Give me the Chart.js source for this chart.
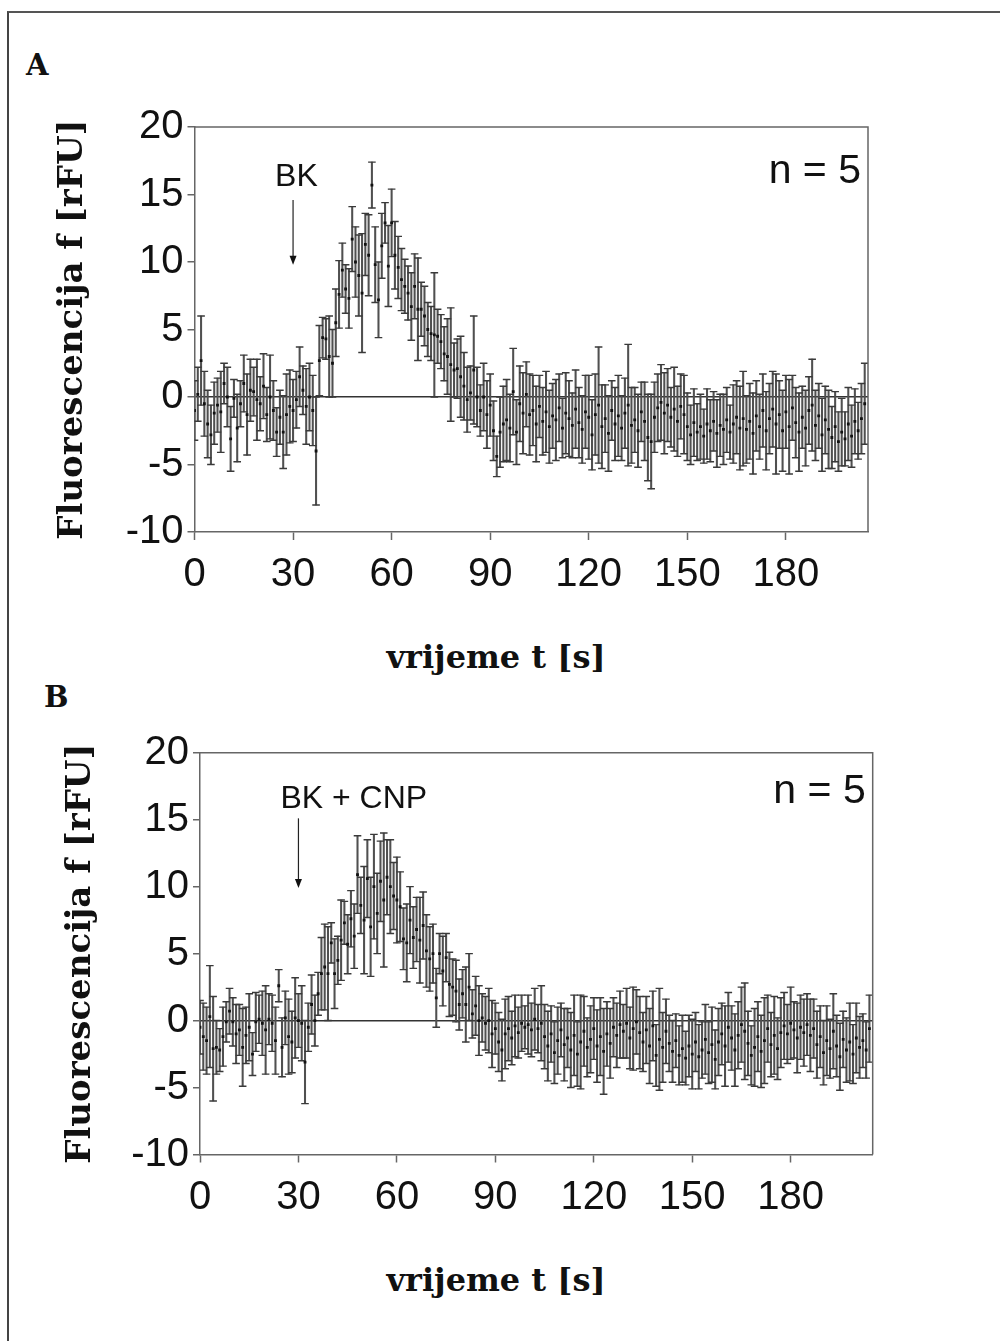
<!DOCTYPE html>
<html>
<head>
<meta charset="utf-8">
<script src="https://cdn.jsdelivr.net/npm/chart.js@4.4.1/dist/chart.umd.min.js"></script>
<style>
  html, body { margin: 0; padding: 0; background: #fff; overflow: hidden; }
  body { width: 1000px; height: 1341px; position: relative; }
  .frame { position: absolute; left: 7px; top: 11px; width: 1100px; height: 1400px;
           border-top: 2px solid #555; border-left: 2px solid #444; }
  .panel { position: absolute; font: bold 29px "DejaVu Serif", serif; line-height: 1; color: #111; }
  .xtitle { position: absolute; width: 1000px; text-align: center;
            font: bold 32px "DejaVu Serif", serif; line-height: 1; color: #111; }
  canvas { position: absolute; left: 0; }
</style>
</head>
<body>
<div class="frame"></div>
<div class="panel" style="left:26px; top:51px;">A</div>
<div class="panel" style="left:44px; top:683px;">B</div>
<canvas id="chartA" width="1000" height="600" style="top:0px"></canvas>
<div class="xtitle" style="left:-4px; top:641px;">vrijeme t [s]</div>
<canvas id="chartB" width="1000" height="560" style="top:680px"></canvas>
<div class="xtitle" style="left:-4px; top:1264px;">vrijeme t [s]</div>

<script>
// time base, seconds (one frame per second)
const timeS = [
  0, 1, 2, 3, 4, 5, 6, 7, 8, 9, 10, 11, 12, 13, 14, 15, 16, 17, 18, 19,
  20, 21, 22, 23, 24, 25, 26, 27, 28, 29, 30, 31, 32, 33, 34, 35, 36, 37, 38, 39,
  40, 41, 42, 43, 44, 45, 46, 47, 48, 49, 50, 51, 52, 53, 54, 55, 56, 57, 58, 59,
  60, 61, 62, 63, 64, 65, 66, 67, 68, 69, 70, 71, 72, 73, 74, 75, 76, 77, 78, 79,
  80, 81, 82, 83, 84, 85, 86, 87, 88, 89, 90, 91, 92, 93, 94, 95, 96, 97, 98, 99,
  100, 101, 102, 103, 104, 105, 106, 107, 108, 109, 110, 111, 112, 113, 114, 115, 116, 117, 118, 119,
  120, 121, 122, 123, 124, 125, 126, 127, 128, 129, 130, 131, 132, 133, 134, 135, 136, 137, 138, 139,
  140, 141, 142, 143, 144, 145, 146, 147, 148, 149, 150, 151, 152, 153, 154, 155, 156, 157, 158, 159,
  160, 161, 162, 163, 164, 165, 166, 167, 168, 169, 170, 171, 172, 173, 174, 175, 176, 177, 178, 179,
  180, 181, 182, 183, 184, 185, 186, 187, 188, 189, 190, 191, 192, 193, 194, 195, 196, 197, 198, 199,
  200, 201, 202, 203, 204
];

// panel A: BK, mean fluorescence and SEM
const meanA = [
  -1.0, 0.2, 2.7, -0.5, -2.0, -2.8, -1.2, -0.6, -1.1, 1.0,
  0.0, -3.1, -0.1, -2.3, -0.5, 1.0, -1.3, 0.5, 0.4, -0.2,
  -0.5, 0.8, -1.3, 0.0, -1.0, -2.6, -1.5, -2.6, -1.3, -0.7,
  -1.0, -0.2, 1.5, 0.5, -0.7, 0.0, -1.0, -4.0, 2.7, 4.4,
  4.3, 3.0, 2.5, 5.5, 7.6, 9.4, 8.0, 7.3, 11.7, 10.0,
  9.0, 7.7, 11.3, 10.5, 15.7, 9.8, 7.2, 11.2, 12.9, 9.7,
  12.9, 10.5, 9.6, 8.7, 8.2, 7.7, 6.7, 8.2, 6.5, 6.5,
  6.0, 5.0, 4.7, 4.6, 4.5, 4.1, 3.2, 3.0, 2.4, 2.0,
  2.1, 1.5, 0.8, -0.2, 0.3, 2.0, 0.0, -1.0, 0.0, -1.3,
  -0.6, -2.5, -4.4, -2.6, -2.0, -1.7, -2.3, 0.4, -2.6, -0.5,
  -1.2, 0.2, -1.3, -1.0, -2.0, -0.7, -1.8, -1.1, -2.2, -1.4,
  -1.7, -0.8, -2.3, -1.2, -1.6, -2.1, -0.9, -1.9, -2.4, -1.1,
  -1.5, -2.8, -1.3, -0.6, -2.2, -1.6, -2.7, -1.0, -2.0, -1.4,
  -2.3, -1.2, -0.6, -2.1, -1.7, -2.5, -1.1, -1.8, -3.0, -3.3,
  -1.5, -0.8, -0.4, -1.2, -0.6, -1.5, -0.9, -1.8, -0.7, -1.3,
  -2.2, -2.8, -1.9, -2.6, -2.2, -2.9, -2.0, -2.5, -1.8, -2.7,
  -2.1, -2.4, -1.7, -2.6, -2.0, -1.5, -2.3, -1.6, -2.4, -1.8,
  -2.7, -1.4, -2.2, -1.0, -2.5, -1.6, -0.9, -2.0, -1.3, -2.5,
  -1.1, -2.2, -0.8, -1.9, -2.6, -1.5, -2.3, -1.0, -0.6, -2.1,
  -1.4, -2.8, -1.7, -2.4, -3.0, -2.2, -3.3, -2.6, -3.1, -2.0,
  -2.9, -1.8, -2.5, -1.6, -0.5
];
const semA = [
  2.2, 2.0, 3.3, 2.4, 2.5, 2.2, 2.3, 2.0, 3.0, 1.5,
  2.2, 2.4, 1.4, 2.5, 1.7, 2.1, 3.0, 2.3, 1.8, 3.0,
  2.0, 2.4, 2.0, 3.1, 2.2, 1.8, 2.0, 2.7, 3.0, 2.7,
  2.3, 2.1, 2.2, 1.8, 2.8, 2.5, 2.6, 4.0, 2.6, 1.5,
  1.5, 3.0, 2.5, 2.5, 2.5, 2.0, 1.8, 2.2, 2.4, 2.6,
  3.0, 4.4, 2.3, 3.0, 1.7, 2.8, 2.8, 2.4, 1.5, 3.0,
  2.5, 2.5, 2.3, 2.3, 2.0, 2.0, 2.5, 2.4, 3.8, 2.0,
  2.2, 2.0, 2.0, 4.6, 2.0, 2.0, 2.0, 2.8, 4.2, 2.0,
  2.2, 3.0, 2.5, 2.4, 2.0, 4.0, 2.2, 1.9, 2.5, 2.5,
  2.3, 2.2, 1.5, 2.6, 2.8, 3.0, 2.5, 3.2, 2.4, 2.8,
  3.0, 2.4, 3.0, 2.6, 2.8, 2.3, 2.5, 3.0, 2.7, 2.4,
  3.0, 2.5, 2.2, 3.0, 2.8, 2.4, 2.9, 2.6, 2.5, 2.7,
  3.1, 2.6, 3.0, 4.3, 3.1, 2.5, 2.8, 2.2, 2.7, 3.0,
  2.4, 2.6, 4.5, 2.8, 2.4, 2.7, 2.2, 2.9, 3.2, 3.5,
  2.6, 2.5, 2.8, 3.0, 2.7, 2.2, 3.1, 2.6, 2.4, 2.9,
  2.5, 2.2, 2.5, 2.1, 2.4, 2.0, 2.6, 2.3, 2.2, 2.5,
  2.3, 2.6, 2.4, 2.0, 2.9, 2.7, 3.1, 3.5, 2.5, 2.8,
  3.0, 2.6, 2.4, 2.7, 2.9, 2.6, 2.8, 3.7, 2.5, 3.0,
  2.7, 3.5, 2.4, 2.6, 2.9, 2.3, 2.8, 2.5, 3.4, 2.6,
  2.4, 2.7, 2.5, 2.9, 2.3, 2.6, 2.2, 2.5, 2.0, 2.7,
  2.3, 2.4, 2.1, 2.6, 3.0
];

// panel B: BK + CNP
const meanB = [
  -0.5, -1.2, -1.5, 0.3, -2.1, -2.0, -2.2, -1.2, -0.1, 0.7,
  -0.1, -1.0, -0.7, -2.0, -1.1, -0.5, -2.5, -0.1, 0.1, -0.2,
  -0.7, 0.1, -0.2, -1.5, 2.6, -2.0, 0.2, -1.2, -1.6, 0.2,
  0.0, -0.2, -3.1, -0.5, 1.2, 0.0, 2.0, 3.5, 4.0, 3.5,
  5.8, 3.5, 4.5, 6.0, 7.3, 5.7, 7.6, 6.3, 10.9, 8.6,
  7.5, 10.6, 7.0, 10.0, 8.0, 10.4, 9.0, 10.7, 10.0, 9.3,
  9.0, 8.5, 6.1, 5.8, 7.5, 6.2, 6.8, 6.0, 7.1, 5.2,
  4.6, 5.0, 1.7, 5.0, 3.7, 4.7, 2.7, 2.5, 2.2, 1.2,
  2.0, 1.2, 2.5, 0.5, 1.1, 0.0, 0.2, -0.2, 0.0, -1.0,
  -0.6, -1.6, -2.2, -1.0, -0.6, -1.3, -0.4, -0.9, -0.2, -0.5,
  -0.3, -0.7, 0.1, -0.6, -0.2, -1.2, -1.9, -1.0, -2.4, -1.5,
  -0.7, -1.8, -1.3, -2.2, -1.1, -2.5, -1.6, -0.8, -2.0, -1.4,
  -0.6, -1.9, -1.2, -2.3, -1.0, -1.7, -0.5, -1.1, -0.3, -0.8,
  -0.2, -1.3, -0.6, -0.1, -0.9, -1.6, -0.7, -1.9, -0.4, -2.6,
  -1.4, -2.0, -0.8, -1.7, -2.3, -1.5, -2.6, -2.1, -2.8, -1.9,
  -2.5, -1.6, -2.7, -2.2, -1.4, -2.4, -1.8, -2.9, -1.6, -1.0,
  -1.9, -0.5, -1.3, -2.2, -1.1, -0.3, -0.8, -1.7, -2.6, -2.0,
  -1.2, -2.3, -1.5, -0.6, -1.8, -1.1, -2.1, -0.9, -0.4, -1.0,
  -0.2, -0.7, -1.3, -0.5, -0.9, -0.3, -1.1, -0.6, -1.8, -1.2,
  -2.4, -1.5, -2.1, -0.8, -1.9, -2.7, -1.4, -2.2, -1.6, -2.5,
  -1.3, -2.0, -1.5, -2.2, -0.6
];
const semB = [
  2.0, 2.5, 2.5, 3.8, 3.9, 2.0, 1.6, 2.2, 1.5, 1.7,
  1.8, 2.2, 1.9, 2.9, 2.1, 2.5, 1.6, 2.2, 1.8, 2.4,
  3.3, 1.9, 2.1, 2.5, 1.2, 2.2, 2.0, 2.8, 2.3, 3.0,
  2.0, 2.8, 3.1, 1.8, 2.2, 1.9, 1.6, 2.7, 3.2, 3.5,
  1.5, 2.6, 1.8, 3.0, 1.6, 2.2, 2.1, 2.4, 2.9, 2.1,
  4.0, 2.9, 3.7, 3.9, 3.0, 3.0, 5.0, 2.8, 3.5, 2.5,
  3.2, 2.6, 2.3, 2.9, 2.5, 2.3, 2.4, 3.2, 2.5, 2.7,
  2.4, 2.2, 2.2, 1.5, 2.6, 1.8, 2.4, 2.1, 2.3, 1.9,
  1.8, 2.8, 2.5, 1.8, 2.2, 2.6, 1.8, 2.0, 2.4, 2.5,
  1.9, 2.2, 2.3, 2.6, 2.4, 2.0, 2.3, 1.9, 2.1, 1.6,
  2.2, 2.0, 2.3, 1.8, 2.8, 2.4, 2.6, 2.1, 2.3, 2.5,
  2.0, 2.7, 2.2, 2.8, 3.0, 2.4, 3.5, 2.6, 2.2, 2.5,
  2.3, 2.7, 2.9, 3.2, 2.4, 2.6, 2.2, 2.4, 2.5, 2.0,
  2.6, 2.3, 3.1, 2.4, 2.7, 2.2, 2.5, 2.8, 2.6, 2.3,
  3.8, 2.6, 2.4, 2.1, 2.3, 2.0, 2.2, 2.5, 2.0, 2.3,
  2.6, 2.2, 2.4, 2.1, 2.6, 2.3, 2.8, 2.2, 2.5, 2.3,
  3.0, 2.6, 2.4, 2.7, 2.5, 2.8, 3.6, 2.4, 2.2, 2.9,
  2.6, 2.7, 3.2, 2.5, 2.4, 2.9, 2.3, 2.6, 2.5, 2.2,
  2.7, 2.1, 2.6, 2.4, 2.5, 2.3, 2.7, 2.2, 2.5, 2.3,
  2.4, 2.6, 2.2, 2.8, 2.3, 2.5, 2.1, 2.4, 2.9, 2.2,
  2.6, 2.3, 2.0, 2.1, 2.5
];

const yTicks = [-10, -5, 0, 5, 10, 15, 20];
const xTicks = [0, 30, 60, 90, 120, 150, 180];

const tickFont = { family: '"Liberation Sans", Arial, sans-serif', size: 40 };
const axisGrey = '#666';

// stimulus arrow, "n = 5" and the top/right frame of the plot box
const notes = {
  id: 'notes',
  afterDraw(chart, args, o) {
    const { ctx, chartArea: a, scales: { x, y } } = chart;
    ctx.save();
    ctx.fillStyle = '#111';
    ctx.strokeStyle = axisGrey;
    ctx.lineWidth = 1.5;
    ctx.beginPath();
    ctx.moveTo(a.left, a.top);
    ctx.lineTo(a.right, a.top);
    ctx.lineTo(a.right, a.bottom);
    ctx.stroke();

    const ax = x.getPixelForValue(o.arrowAt);
    ctx.font = '32px "Liberation Sans", Arial, sans-serif';
    ctx.textAlign = 'left';
    ctx.textBaseline = 'alphabetic';
    ctx.fillText(o.stim, ax - 18, y.getPixelForValue(o.stimY));

    const y0 = y.getPixelForValue(o.arrowFrom);
    const y1 = y.getPixelForValue(o.arrowTo);
    ctx.strokeStyle = '#222';
    ctx.lineWidth = 1.2;
    ctx.beginPath();
    ctx.moveTo(ax, y0);
    ctx.lineTo(ax, y1 - 7);
    ctx.stroke();
    ctx.beginPath();
    ctx.moveTo(ax - 3.5, y1 - 9);
    ctx.lineTo(ax + 3.5, y1 - 9);
    ctx.lineTo(ax, y1);
    ctx.closePath();
    ctx.fill();

    ctx.font = '41px "Liberation Sans", Arial, sans-serif';
    ctx.textAlign = 'right';
    ctx.fillText('n = 5', a.right - 7, a.top + o.nDrop);
    ctx.restore();
  }
};

function makePanel(id, means, sems, box, note) {
  const bars = timeS.map((t, i) => ({ x: t, y: [means[i] - sems[i], means[i] + sems[i]] }));
  const caps = timeS.map((t, i) => ({ x: t, y: means[i] + sems[i] }))
    .concat(timeS.map((t, i) => ({ x: t, y: means[i] - sems[i] })));
  const pts = timeS.map((t, i) => ({ x: t, y: means[i] }));

  return new Chart(document.getElementById(id), {
    type: 'bar',
    data: {
      datasets: [
        { type: 'scatter', data: pts, pointStyle: 'rect', pointRadius: 2,
          backgroundColor: '#111', borderWidth: 0, order: 0 },
        { type: 'scatter', data: caps, pointStyle: 'line', pointRadius: 3.8,
          borderColor: '#3a3a3a', borderWidth: 1.4, order: 1 },
        { type: 'bar', data: bars, barThickness: 1.4, backgroundColor: '#505050',
          borderWidth: 0, order: 2 }
      ]
    },
    options: {
      responsive: false,
      devicePixelRatio: 1,
      animation: false,
      events: [],
      layout: { padding: box.padding },
      plugins: { legend: { display: false }, tooltip: { enabled: false }, notes: note },
      scales: {
        x: {
          type: 'linear', min: 0, max: 205, offset: false,
          afterBuildTicks: s => { s.ticks = xTicks.map(v => ({ value: v })); },
          afterFit: s => { s.height = box.xHeight; },
          ticks: { includeBounds: false, autoSkip: false, maxRotation: 0, padding: 11,
                   color: '#111', font: tickFont },
          grid: { offset: false, drawOnChartArea: false, tickLength: 8,
                  tickColor: axisGrey, tickWidth: 1.5 },
          border: { color: axisGrey, width: 1.5 }
        },
        y: {
          type: 'linear', min: -10, max: 20,
          afterBuildTicks: s => { s.ticks = yTicks.map(v => ({ value: v })); },
          afterFit: s => { s.width = box.yWidth; },
          ticks: { padding: 4, color: '#111', font: tickFont },
          grid: {
            color: c => (c.tick && c.tick.value === 0 ? '#333' : 'rgba(0,0,0,0)'),
            lineWidth: 1.5, tickLength: 7, tickColor: axisGrey, tickWidth: 1.5
          },
          border: { color: axisGrey, width: 1.5 },
          title: { display: true, text: 'Fluorescencija f [rFU]', color: '#111', padding: 0,
                   font: { family: '"DejaVu Serif", serif', weight: 'bold', size: 34 } }
        }
      }
    },
    plugins: [notes]
  });
}

makePanel('chartA', meanA, semA,
  { padding: { left: 53, top: 127, right: 132, bottom: 0 }, yWidth: 141.5, xHeight: 68 },
  { stim: 'BK', arrowAt: 30, stimY: 15.6, arrowFrom: 14.6, arrowTo: 9.8, nDrop: 56 });

makePanel('chartB', meanB, semB,
  { padding: { left: 61, top: 72.7, right: 127.3, bottom: 0 }, yWidth: 139, xHeight: 85.5 },
  { stim: 'BK + CNP', arrowAt: 30, stimY: 15.9, arrowFrom: 15.1, arrowTo: 9.9, nDrop: 50 });
</script>
</body>
</html>
